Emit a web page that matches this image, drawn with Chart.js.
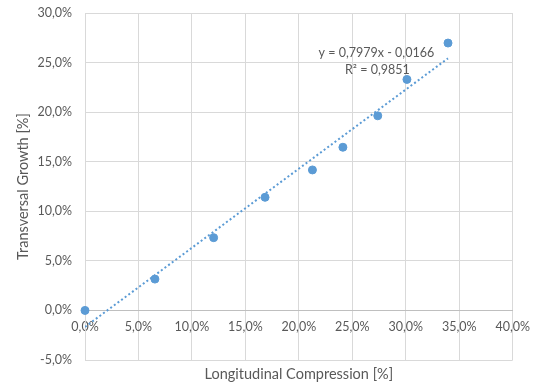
<!DOCTYPE html>
<html>
<head>
<meta charset="utf-8">
<script src="https://cdn.jsdelivr.net/npm/chart.js@4/dist/chart.umd.min.js"></script>
<style>
  html, body { margin: 0; padding: 0; background: #fff; }
  #wrap { width: 539px; height: 385px; }
</style>
</head>
<body>
<div id="wrap"><canvas id="growthChart" width="539" height="385"></canvas></div>
<script>
// measured samples: longitudinal compression vs transversal growth (fractions)
var compression = [0, 0.0654, 0.1203, 0.1684, 0.2127, 0.2412, 0.2738, 0.3011, 0.3395];
var growth      = [0, 0.0316, 0.0734, 0.1141, 0.1417, 0.1646, 0.1963, 0.2330, 0.2697];

// linear trendline as reported by the fit
var slope = 0.7979;
var intercept = -0.0166;
var rSquared = 0.9851;

var xTicks = [0, 0.05, 0.10, 0.15, 0.20, 0.25, 0.30, 0.35, 0.40];
var yTicks = [-0.05, 0, 0.05, 0.10, 0.15, 0.20, 0.25, 0.30];

var blue = '#5B9BD5';
var gridColor = '#D9D9D9';
var textColor = '#595959';
var fontFamily = 'Lato, "Open Sans", sans-serif';

function pct(v) {
  return (v * 100).toFixed(1).replace('.', ',') + '%';
}
function comma(v) {
  return v.toFixed(4).replace('.', ',');
}

var points = compression.map(function (x, i) { return { x: x, y: growth[i] }; });
var xEnd = Math.max.apply(null, compression);
var trend = [
  { x: 0, y: intercept },
  { x: xEnd, y: slope * xEnd + intercept }
];

// equation + R² label near the top of the trendline
var trendLabel = {
  id: 'trendLabel',
  afterDatasetsDraw: function (chart) {
    var ctx = chart.ctx;
    var px = chart.scales.x.getPixelForValue(0.2725);
    var py = chart.scales.y.getPixelForValue(0.2596);
    var sign = intercept < 0 ? ' - ' : ' + ';
    ctx.save();
    ctx.fillStyle = textColor;
    ctx.font = '12.5px ' + fontFamily;
    ctx.textAlign = 'center';
    ctx.textBaseline = 'middle';
    ctx.fillText('y = ' + comma(slope) + 'x' + sign + comma(Math.abs(intercept)), px, py);
    ctx.fillText('R\u00B2 = ' + comma(rSquared), px + 1, py + 17);
    ctx.restore();
  }
};

new Chart('growthChart', {
  type: 'scatter',
  data: {
    datasets: [{
      label: 'samples',
      data: points,
      backgroundColor: blue,
      borderColor: blue,
      pointRadius: 4,
      pointHoverRadius: 4,
      clip: false
    }, {
      type: 'line',
      label: 'trend',
      data: trend,
      borderColor: blue,
      borderWidth: 2,
      borderDash: [2, 2.5],
      pointRadius: 0,
      fill: false
    }]
  },
  options: {
    responsive: false,
    animation: false,
    layout: { padding: { top: 13, right: 24, bottom: 0, left: 0 } },
    plugins: {
      legend: { display: false },
      tooltip: { enabled: false }
    },
    scales: {
      x: {
        type: 'linear',
        position: { y: 0 },
        min: 0,
        max: 0.4,
        afterBuildTicks: function (axis) {
          axis.ticks = xTicks.map(function (v) { return { value: v }; });
        },
        grid: { color: gridColor, drawTicks: false },
        border: { color: '#BFBFBF' },
        ticks: {
          padding: 9,
          color: textColor,
          font: { family: fontFamily, size: 12.5 },
          maxRotation: 0,
          callback: function (v) { return pct(v); }
        }
      },
      xTitle: {
        type: 'linear',
        position: 'bottom',
        axis: 'x',
        min: 0,
        max: 1,
        grid: { display: false },
        border: { display: false },
        ticks: { display: false },
        afterFit: function (axis) { axis.height = 25; },
        title: {
          display: true,
          text: 'Longitudinal Compression [%]',
          color: textColor,
          font: { family: fontFamily, size: 14.5 },
          padding: { top: 0, bottom: 2 }
        }
      },
      y: {
        type: 'linear',
        min: -0.05,
        max: 0.3,
        afterBuildTicks: function (axis) {
          axis.ticks = yTicks.map(function (v) { return { value: v }; });
        },
        afterFit: function (axis) {
          axis.width = 85;
          // keep the tick padding from pushing the plot area inwards
          axis.paddingTop = 0;
          axis.paddingBottom = 0;
        },
        grid: { color: gridColor, drawTicks: false },
        border: { color: gridColor },
        ticks: {
          padding: 13,
          color: textColor,
          font: { family: fontFamily, size: 12.5 },
          callback: function (v) { return pct(v); }
        },
        title: {
          display: true,
          text: 'Transversal Growth [%]',
          color: textColor,
          font: { family: fontFamily, size: 14.5 },
          padding: { top: 15, bottom: 0 }
        }
      }
    }
  },
  plugins: [trendLabel]
});
</script>
</body>
</html>
